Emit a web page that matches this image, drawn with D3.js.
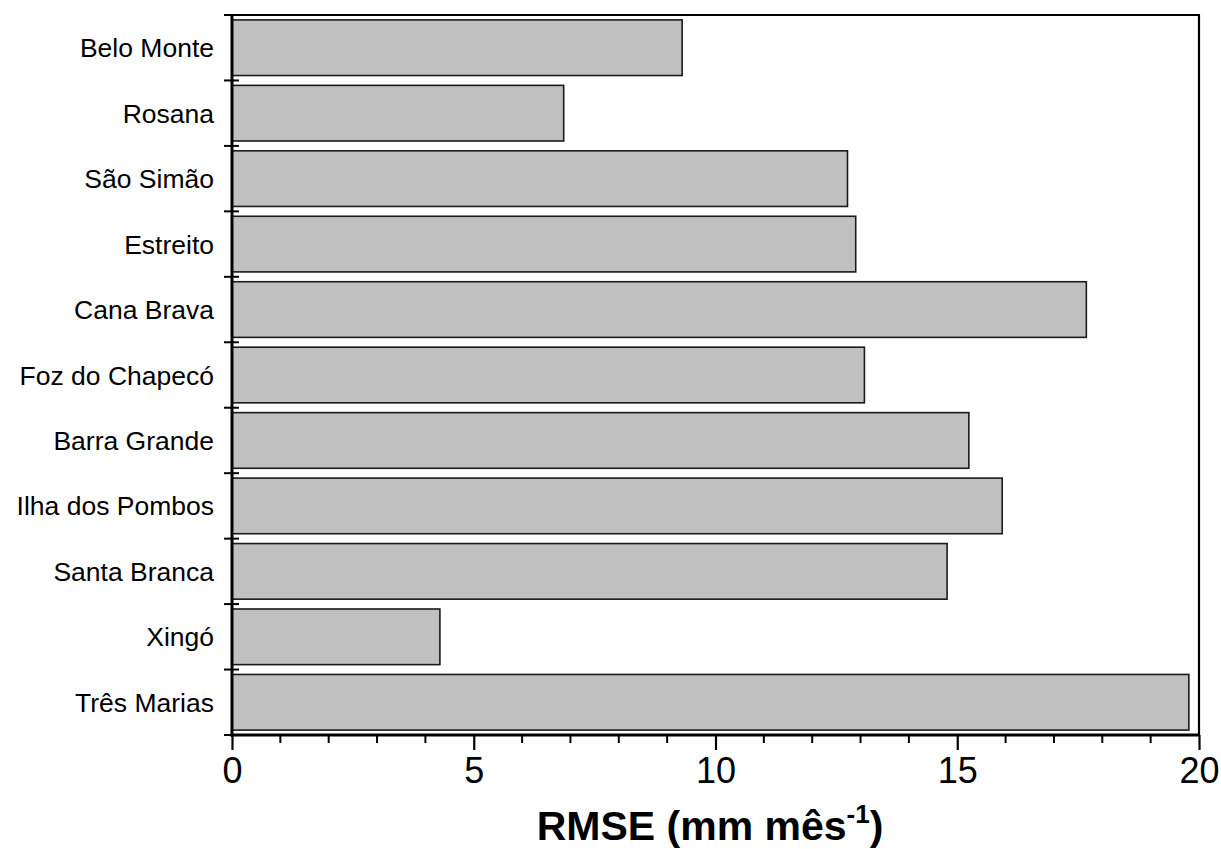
<!DOCTYPE html>
<html>
<head>
<meta charset="utf-8">
<script src="https://cdn.jsdelivr.net/npm/d3@7"></script>
<style>
  html, body { margin: 0; padding: 0; background: #fff; }
  svg { display: block; }
</style>
</head>
<body>
<svg id="chart" width="1221" height="849"></svg>
<script>
const categories = ["Belo Monte", "Rosana", "São Simão", "Estreito", "Cana Brava", "Foz do Chapecó",
  "Barra Grande", "Ilha dos Pombos", "Santa Branca", "Xingó", "Três Marias"];
const rmseValues = [9.31, 6.86, 12.73, 12.90, 17.67, 13.08, 15.24, 15.93, 14.79, 4.30, 19.79];
const xTickLabels = [0, 5, 10, 15, 20];
const xMinorTicks = d3.range(0, 21, 1);

const svg = d3.select("#chart");
const margin = { left: 232, right: 22, top: 15, bottom: 114 };
const W = 1221, H = 849;
const x0 = margin.left, x1 = W - margin.right;
const y0 = margin.top, y1 = H - margin.bottom;

const x = d3.scaleLinear().domain([0, 20]).range([x0, x1]);
const y = d3.scaleBand().domain(categories).range([y0, y1]).paddingInner(0.15).paddingOuter(0.075);
const yEdges = d3.scaleBand().domain(categories).range([y0, y1]).padding(0);

const font = "'Liberation Sans', Arial, sans-serif";

// bars
svg.append("g").selectAll("rect").data(categories).join("rect")
  .attr("x", x(0))
  .attr("y", d => y(d))
  .attr("width", (d, i) => x(rmseValues[i]) - x(0))
  .attr("height", y.bandwidth())
  .attr("fill", "#c0c0c0")
  .attr("stroke", "#1a1a1a")
  .attr("stroke-width", 1.6);

// frame: top and right
svg.append("line").attr("x1", x0).attr("x2", x1 + 1).attr("y1", y0).attr("y2", y0)
  .attr("stroke", "#000").attr("stroke-width", 2.2);
svg.append("line").attr("x1", x1).attr("x2", x1).attr("y1", y0).attr("y2", y1)
  .attr("stroke", "#000").attr("stroke-width", 2.2);

// x axis minor ticks
svg.append("g").selectAll("line.minor").data(xMinorTicks.filter(v => v % 5 !== 0)).join("line")
  .attr("x1", d => x(d)).attr("x2", d => x(d))
  .attr("y1", y1).attr("y2", y1 + 8)
  .attr("stroke", "#000").attr("stroke-width", 2);

// x axis major ticks + labels
const xAxis = d3.axisBottom(x).tickValues(xTickLabels).tickSize(15).tickSizeOuter(0).tickFormat(d3.format("d"));
const gx = svg.append("g").attr("transform", `translate(0,${y1})`).call(xAxis);
gx.select(".domain").remove();
gx.selectAll(".tick line").attr("stroke", "#000").attr("stroke-width", 2.2);
gx.selectAll(".tick text")
  .attr("y", 22).attr("dy", "0.71em")
  .attr("font-family", font).attr("font-size", 36).attr("fill", "#000");

// y axis category boundary ticks
const edges = categories.map(c => yEdges(c)).concat([y1]);
svg.append("g").selectAll("line.ytick").data(edges).join("line")
  .attr("x1", x0 - 8).attr("x2", x0 + 7)
  .attr("y1", d => d).attr("y2", d => d)
  .attr("stroke", "#000").attr("stroke-width", 2);

// category labels
svg.append("g").selectAll("text.cat").data(categories).join("text")
  .attr("x", x0 - 18)
  .attr("y", d => yEdges(d) + yEdges.bandwidth() / 2)
  .attr("dy", "0.36em")
  .attr("text-anchor", "end")
  .attr("font-family", font).attr("font-size", 26.5)
  .attr("fill", "#000")
  .text(d => d);

// axis lines: left and bottom (thick)
svg.append("line").attr("x1", x0).attr("x2", x0).attr("y1", y0 - 1).attr("y2", y1 + 1.5)
  .attr("stroke", "#000").attr("stroke-width", 3);
svg.append("line").attr("x1", x0 - 1.5).attr("x2", x1 + 1).attr("y1", y1).attr("y2", y1)
  .attr("stroke", "#000").attr("stroke-width", 3);

// x axis title
const title = svg.append("text")
  .attr("x", 710)
  .attr("y", 840)
  .attr("text-anchor", "middle")
  .attr("font-family", font).attr("font-weight", "bold").attr("font-size", 41)
  .attr("fill", "#000");
title.append("tspan").text("RMSE (mm mês");
title.append("tspan").attr("font-size", 26).attr("dy", -17).text("-1");
title.append("tspan").attr("dy", 17).text(")");
</script>
</body>
</html>
